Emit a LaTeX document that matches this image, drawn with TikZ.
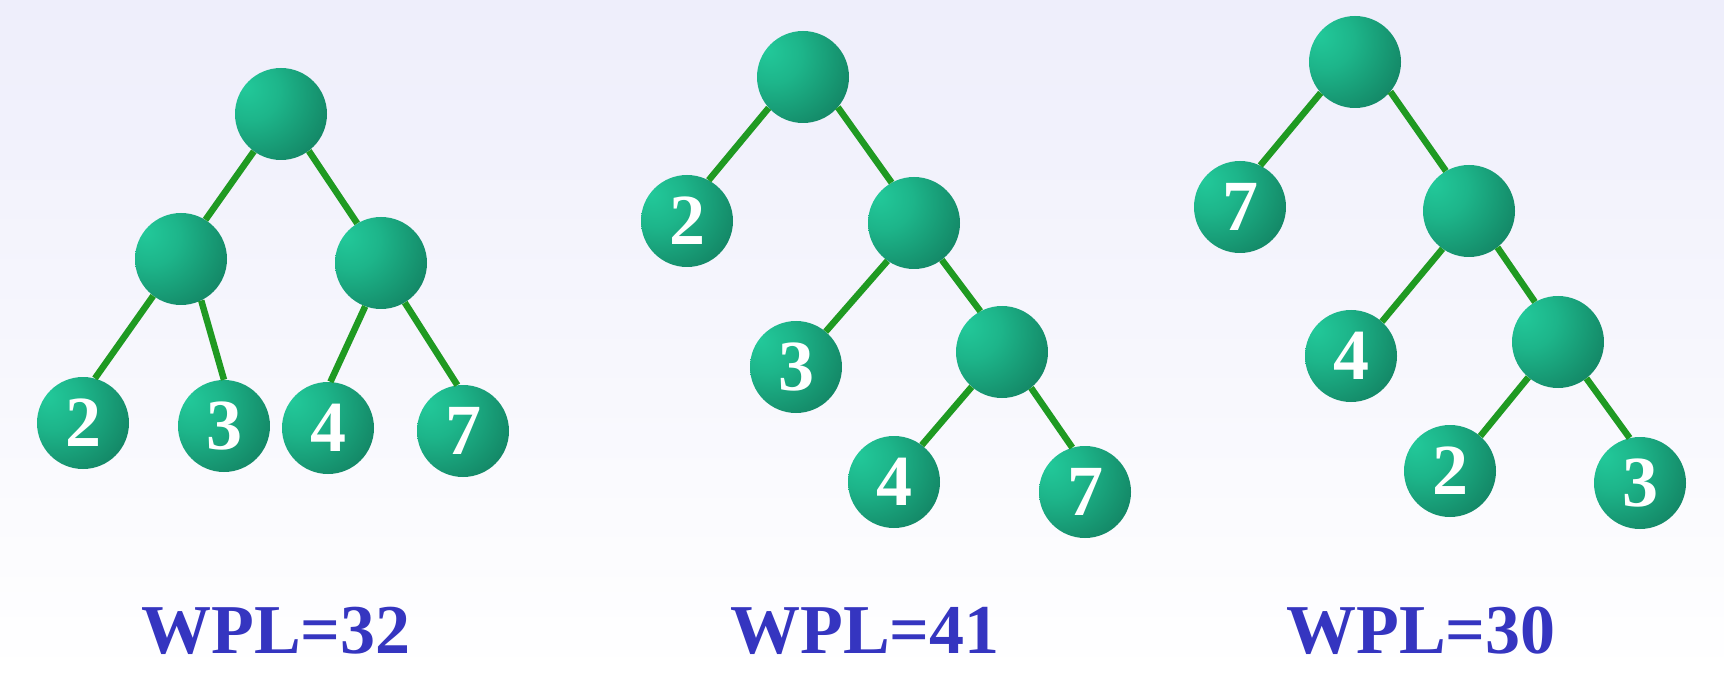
\documentclass[tikz,border=0pt]{standalone}
\usepackage{fontspec}
\setmainfont{Liberation Serif}
\usepackage{tikz}
\definecolor{bgtop}{HTML}{EEEEFB}
\definecolor{edgegreen}{HTML}{1F9A22}
\definecolor{wplblue}{HTML}{3535C0}
\definecolor{ballA}{HTML}{22C99A}
\definecolor{ballB}{HTML}{1DB58A}
\definecolor{ballC}{HTML}{16936F}
\definecolor{ballD}{HTML}{0F7156}
\definecolor{ballE}{HTML}{0B5A43}
\pgfdeclareradialshading{knotball}{\pgfpoint{-20bp}{15bp}}{%
	color(0bp)=(ballA);
	color(16bp)=(ballB);
	color(34bp)=(ballC);
	color(52bp)=(ballD);
	color(68bp)=(ballE);
	color(100bp)=(ballE)}

\begin{document}
\begin{tikzpicture}[x=1pt,y=-1pt,
		knot/.style={circle,minimum size=92pt,inner sep=0pt,shade,shading=knotball,text=white,
			font=\fontsize{72}{72}\selectfont\bfseries},
		edge/.style={draw=edgegreen,line width=6.5pt},
		wpl/.style={anchor=base,text=wplblue,font=\fontsize{70}{70}\selectfont\bfseries}]
			%%%%% START %%%%%
			\useasboundingbox (0,0) rectangle (1724,676);
			\shade[top color=bgtop,bottom color=white] (0,0) rectangle (1724,676);
			
			% WPL=32
			\node[knot] (a) at (281,114) {};
			\node[knot] (aL) at (181,259) {};
			\node[knot] (aR) at (381,263) {};
			\node[knot] (a2) at (83,423) {2};
			\node[knot] (a3) at (224,426) {3};
			\node[knot] (a4) at (328,428) {4};
			\node[knot] (a7) at (463,431) {7};
			\draw[edge] (a.234) -- (aL.58);
			\draw[edge] (a.307) -- (aR.121);
			\draw[edge] (aL.233) -- (a2.75);
			\draw[edge] (aL.296) -- (a3.90);
			\draw[edge] (aR.250) -- (a4.87);
			\draw[edge] (aR.301) -- (a7.97);
			\node[wpl] (wa) at (276,653) {WPL=32};
			
			% WPL=41
			\node[knot] (b) at (803,77) {};
			\node[knot] (b2) at (687,221) {2};
			\node[knot] (bI) at (914,223) {};
			\node[knot] (b3) at (796,367) {3};
			\node[knot] (bJ) at (1002,352) {};
			\node[knot] (b4) at (894,482) {4};
			\node[knot] (b7) at (1085,492) {7};
			\draw[edge] (b.222) -- (b2.62);
			\draw[edge] (b.319) -- (bI.119);
			\draw[edge] (bI.235) -- (b3.50);
			\draw[edge] (bI.307) -- (bJ.118);
			\draw[edge] (bJ.229) -- (b4.53);
			\draw[edge] (bJ.309) -- (b7.106);
			\node[wpl] (wb) at (865,653) {WPL=41};
			
			% WPL=30
			\node[knot] (c) at (1355,62) {};
			\node[knot] (c7) at (1240,207) {7};
			\node[knot] (cI) at (1469,211) {};
			\node[knot] (c4) at (1351,356) {4};
			\node[knot] (cJ) at (1558,342) {};
			\node[knot] (c2) at (1450,471) {2};
			\node[knot] (c3) at (1640,483) {3};
			\draw[edge] (c.222) -- (c7.64);
			\draw[edge] (c.320) -- (cI.120);
			\draw[edge] (cI.235) -- (c4.48);
			\draw[edge] (cI.308) -- (cJ.120);
			\draw[edge] (cJ.230) -- (c2.49);
			\draw[edge] (cJ.308) -- (c3.103);
			\node[wpl] (wc) at (1421,653) {WPL=30};
			%%%%% END %%%%%
		\end{tikzpicture}
\end{document}
